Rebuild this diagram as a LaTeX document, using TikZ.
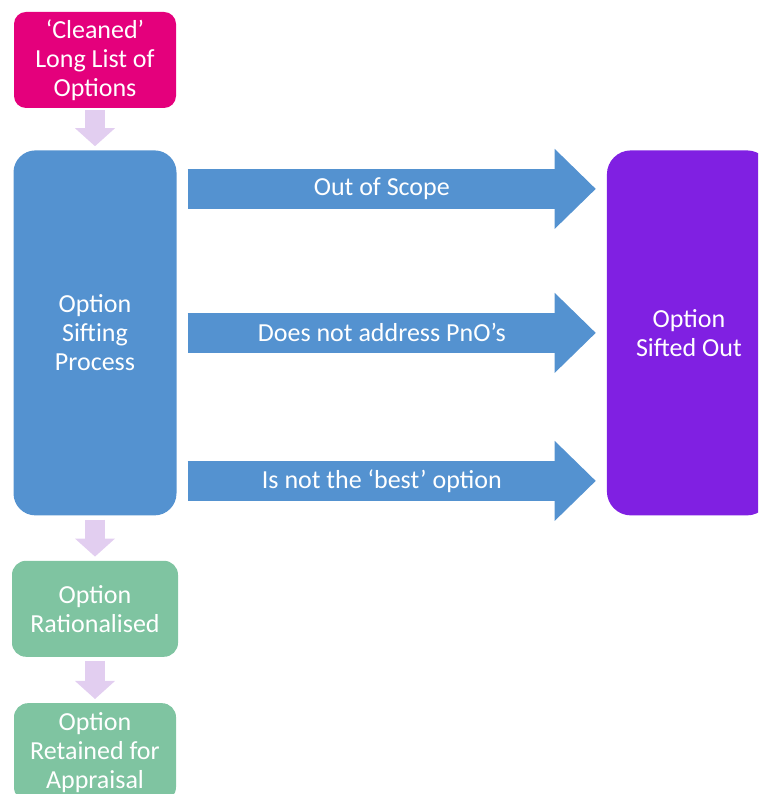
\documentclass[tikz,border=0pt]{standalone}
\usepackage{fontspec}
\setmainfont{Carlito}
\usepackage{tikz}
\usetikzlibrary{positioning, arrows.meta}
\definecolor{pnk}{RGB}{228,0,124}
\definecolor{prcblue}{RGB}{84,146,208}
\definecolor{grn}{RGB}{127,196,161}
\definecolor{prp}{RGB}{128,32,226}
\definecolor{lav}{RGB}{226,206,240}
\tikzset{
  box/.style={inner sep=0pt, align=center, text=white,
    font=\fontsize{26}{29}\selectfont},
  fatarr/.style={draw=prcblue, line width=40pt,
    -{Triangle[length=41pt,width=80pt,line width=0pt]},
    shorten <=11pt, shorten >=11pt},
  thinarr/.style={draw=lav, line width=20pt,
    -{Triangle[length=18pt,width=40pt,line width=0pt]}},
  lab/.style={text=white, inner sep=0pt, font=\fontsize{26}{29}\selectfont}
}

\begin{document}
\begin{tikzpicture}[x=1pt, y=1pt]
  \useasboundingbox (0,0) rectangle (758,794);
  \clip (0,0) rectangle (758,794);
  \node[box, fill=pnk, rounded corners=12pt, minimum width=162pt, minimum height=96pt]
    (clean) at (95,734) {‘Cleaned’\\Long List of\\Options};
  \node[box, fill=prcblue, rounded corners=22pt, minimum width=163pt, minimum height=365pt,
    below=42pt of clean] (sift) {Option\\Sifting\\Process};
  \node[box, fill=grn, rounded corners=14pt, minimum width=166pt, minimum height=96pt,
    below=45pt of sift] (ratl) {Option\\Rationalised};
  \node[box, fill=grn, rounded corners=14pt, minimum width=162pt, minimum height=98pt,
    below=46pt of ratl] (keep) {Option\\Retained for\\Appraisal};
  \node[box, fill=prp, rounded corners=24pt, minimum width=164pt, minimum height=365pt,
    right=430pt of sift] (out) {Option\\Sifted Out};

  % flow down the left column
  \draw[thinarr, shorten <=2pt, shorten >=4pt] (clean) -- (sift);
  \draw[thinarr, shorten <=4pt, shorten >=4pt] (sift) -- (ratl);
  \draw[thinarr, shorten <=4pt, shorten >=4pt] (ratl) -- (keep);

  % reasons for sifting out
  \draw[fatarr] ([yshift=144pt]sift.east) -- ([yshift=144pt]out.west)
    node[lab, pos=0.477] (scope) {Out of Scope};
  \draw[fatarr] (sift.east) -- (out.west)
    node[lab, pos=0.477] (pno) {Does not address PnO’s};
  \draw[fatarr] ([yshift=-148pt]sift.east) -- ([yshift=-148pt]out.west)
    node[lab, pos=0.477] (best) {Is not the ‘best’ option};
\end{tikzpicture}
\end{document}
